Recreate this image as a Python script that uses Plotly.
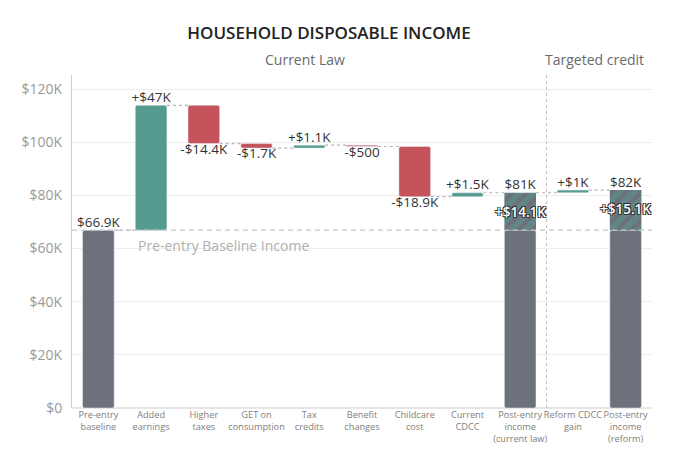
import plotly.graph_objects as go

# categories along the x axis
categories = ["Pre-entry<br>baseline", "Added<br>earnings", "Higher<br>taxes",
              "GET on<br>consumption", "Tax<br>credits", "Benefit<br>changes",
              "Childcare<br>cost", "Current<br>CDCC", "Post-entry<br>income<br>(current law)",
              "Reform CDCC<br>gain", "Post-entry<br>income<br>(reform)"]

baseline = 66900
# current-law steps (Added earnings .. Current CDCC)
steps = [47000, -14400, -1700, 1100, -500, -18900, 1500]
reform_gain = 1000

y_ticks = [0, 20000, 40000, 60000, 80000, 100000, 120000]
y_tick_text = ["$0", "$20K", "$40K", "$60K", "$80K", "$100K", "$120K"]

teal = "#559b8f"
red = "#c4535b"
gray = "#6d717c"
conn = "#b5b5b5"
font = "Open Sans"


def money(v, sign=False):
    s = "+" if (sign and v > 0) else ("-" if v < 0 else "")
    v = abs(v)
    if v >= 1000:
        return s + "$" + f"{v / 1000:g}" + "K"
    return s + "$" + str(v)


# running levels
levels = [baseline]
for s in steps:
    levels.append(levels[-1] + s)
post_current = levels[-1]
post_reform = post_current + reform_gain

fig = go.Figure()

# baseline bar + grey part of the post-entry bars
fig.add_trace(go.Bar(x=[0, 8, 10], y=[baseline, baseline, baseline], base=[0, 0, 0],
                     marker=dict(color=gray, cornerradius=2), width=0.6, hoverinfo="skip"))
# hatched gain region on the post-entry bars
fig.add_trace(go.Bar(x=[8, 10], y=[post_current - baseline, post_reform - baseline],
                     base=[baseline, baseline], width=0.6, hoverinfo="skip",
                     marker=dict(color=gray, line_width=0,
                                 pattern=dict(shape="/", fgcolor=teal, bgcolor=gray,
                                              size=10, solidity=0.55))))

# step bars
step_x = list(range(1, len(steps) + 1)) + [9]
step_vals = steps + [reform_gain]
step_base = levels[:-1] + [post_current]
fig.add_trace(go.Bar(x=step_x, y=[abs(v) for v in step_vals],
                     base=[b if v > 0 else b + v for b, v in zip(step_base, step_vals)],
                     width=0.6, hoverinfo="skip",
                     marker=dict(color=[teal if v > 0 else red for v in step_vals],
                                 cornerradius=2)))

# connectors between neighbouring bars
running = levels + [post_current, post_reform, post_reform]
cx, cy = [], []
for i in range(1, 11):
    cx += [i - 1 + 0.3, i - 0.3, None]
    cy += [running[i - 1], running[i - 1], None]
fig.add_trace(go.Scatter(x=cx, y=cy, mode="lines", hoverinfo="skip",
                         line=dict(color=conn, width=1.2, dash="3px,3px")))

# value labels
up_x, up_y, up_t, dn_x, dn_y, dn_t = [], [], [], [], [], []
up_x.append(0); up_y.append(baseline); up_t.append(money(baseline))
for x, b, v in zip(step_x, step_base, step_vals):
    if v > 0:
        up_x.append(x); up_y.append(b + v); up_t.append(money(v, True))
    else:
        dn_x.append(x); dn_y.append(b + v); dn_t.append(money(v, True))
up_x += [8, 10]; up_y += [post_current, post_reform]
up_t += [money(post_current), money(post_reform)]
lbl_font = dict(size=13.5, color="#333333", family=font)
fig.add_trace(go.Scatter(x=up_x, y=up_y, text=up_t, mode="text", textposition="top center",
                         textfont=lbl_font, hoverinfo="skip"))
fig.add_trace(go.Scatter(x=dn_x, y=dn_y, text=dn_t, mode="text", textposition="bottom center",
                         textfont=lbl_font, hoverinfo="skip"))

# gain labels in hatched part
outline = "1px 1px 0 #333, -1px -1px 0 #333, 1px -1px 0 #333, -1px 1px 0 #333"
for x, top in [(8, post_current), (10, post_reform)]:
    fig.add_annotation(x=x, y=top, text=money(top - baseline, True), showarrow=False,
                       yshift=-19, font=dict(size=13.5, color="white", family=font,
                                             weight=600, shadow=outline))

# baseline reference line
fig.add_shape(type="line", xref="paper", x0=0, x1=1, y0=baseline, y1=baseline,
              line=dict(color="#c4c4c4", width=1.2, dash="5px,4px"))
fig.add_annotation(x=0.72, y=baseline, text="Pre-entry Baseline Income", showarrow=False,
                   xanchor="left", yshift=-15, font=dict(size=14, color="#b0b0b0", family=font))

# divider between sections
fig.add_shape(type="line", x0=8.5, x1=8.5, yref="paper", y0=0, y1=1,
              line=dict(color="#bdbdbd", width=1, dash="3px,3px"))
fig.add_annotation(x=3.92, y=1.0, yref="paper", text="Current Law", showarrow=False,
                   yanchor="bottom", yshift=4, font=dict(size=14, color="#6a6a6a", family=font))
fig.add_annotation(x=9.41, y=1.0, yref="paper", text="Targeted credit", showarrow=False,
                   yanchor="bottom", yshift=4, font=dict(size=14, color="#6a6a6a", family=font))

fig.update_layout(
    width=680, height=473,
    title=dict(text="HOUSEHOLD DISPOSABLE INCOME", x=321 / 680, xanchor="center",
               y=1 - 25 / 473, yanchor="middle",
               font=dict(size=17, color="#222", family=font, weight=600)),
    margin=dict(l=64, r=36, t=67, b=73),
    plot_bgcolor="white", paper_bgcolor="white",
    showlegend=False, barmode="overlay",
    font=dict(family=font),
)
fig.update_xaxes(range=[-0.5, 10.5], tickvals=list(range(11)), ticktext=categories,
                 tickangle=0, automargin=False,
                 tickfont=dict(size=9.2, color="#808080"), showgrid=False, zeroline=False,
                 showline=False, ticks="")
fig.update_yaxes(range=[0, 125300], tickvals=y_ticks, ticktext=y_tick_text, automargin=False,
                 tickfont=dict(size=14, color="#9a9a9a"), gridcolor="#ededed",
                 showline=True, linecolor="#cfcfcf", zeroline=True, zerolinecolor="#e6e6e6",
                 ticks="", ticklabelstandoff=6)

fig.write_html("out.html")
